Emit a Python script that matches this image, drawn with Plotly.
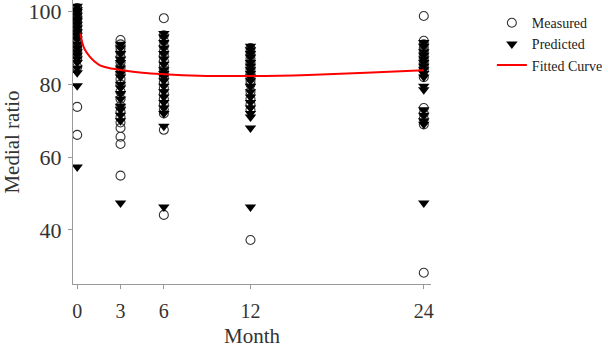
import plotly.graph_objects as go

months = [0, 3, 6, 12, 24]

measured = {
    0: [101, 100, 99.5, 99, 98, 97, 96.5, 96, 95, 94, 93, 92, 91, 90, 89, 88, 87, 84.8, 73.8, 66.1],
    3: [92.2, 91, 90, 89, 87.5, 86, 84.5, 83, 81.5, 80, 78, 76, 74, 72.5, 71, 69.5, 68, 65.6, 63.6, 54.9],
    6: [98.2, 93.5, 92, 90.5, 89, 88, 86.5, 85, 84, 83, 82, 80.5, 79, 77.5, 76, 74.5, 73, 72, 67.5, 44.1],
    12: [90, 89, 88, 87, 86, 85, 84, 83, 82, 81, 80, 78, 76, 74.5, 73, 37.2],
    24: [98.8, 92, 91, 90, 89, 88, 87, 86, 85, 84, 82, 73.5, 72, 70.5, 69, 28.2],
}

predicted = {
    0: [101.5, 100.5, 100, 99, 98, 97.5, 96.5, 95.5, 94.5, 93.5, 92.5, 91, 90, 89, 88, 87, 86, 84.5, 83.2, 79.6, 57.3],
    3: [91, 90, 88.5, 87, 86, 84.5, 83, 82, 80, 79, 77.5, 76, 74, 73, 71.5, 70, 47.4],
    6: [94, 93, 91.5, 90, 88.5, 87, 85.5, 84, 83, 82, 81, 79.5, 78, 76.5, 75, 73.5, 72, 68.5, 46.3],
    12: [90.5, 89.5, 88.5, 87.5, 86, 85, 84, 83, 82, 81, 79.5, 78, 76.5, 75, 73.5, 72, 71, 68, 46.3],
    24: [91.5, 90.5, 89, 88, 87, 86, 85, 84, 83, 82, 79.5, 78.5, 73, 71.5, 70, 69, 47.4],
}

curve_x = [0.23, 0.35, 0.5, 0.87, 1.2, 1.55, 2.2, 3.1, 4.5, 6, 8.4, 12, 16, 20, 24]
curve_y = [94.0, 91.5, 89.8, 87.6, 86.3, 85.3, 84.5, 83.9, 83.2, 82.8, 82.4, 82.3, 82.6, 83.2, 83.9]

tick_vals_x = [0, 3, 6, 12, 24]
tick_vals_y = [40, 60, 80, 100]

mx, my = [], []
for m in months:
    mx += [m] * len(measured[m])
    my += measured[m]
px_, py_ = [], []
for m in months:
    px_ += [m] * len(predicted[m])
    py_ += predicted[m]

fig = go.Figure()
fig.add_trace(go.Scatter(
    x=mx, y=my, mode="markers", name="Measured",
    marker=dict(symbol="circle-open", size=9, color="#333333", line=dict(width=1.1, color="#333333")),
))
fig.add_trace(go.Scatter(
    x=px_, y=py_, mode="markers", name="Predicted",
    marker=dict(symbol="triangle-down", size=10, color="#000000"),
))
fig.add_trace(go.Scatter(
    x=curve_x, y=curve_y, mode="lines", name="Fitted Curve",
    line=dict(color="#ff0000", width=2, shape="spline"),
))

axis_font = dict(family="Liberation Serif", color="#333333")
fig.update_layout(
    width=608, height=348,
    margin=dict(l=73, r=173, t=0, b=64),
    paper_bgcolor="white", plot_bgcolor="white",
    font=dict(family="Liberation Serif", color="#333333"),
    showlegend=True,
    legend=dict(
        x=1.17, y=0.975, xanchor="left", yanchor="top",
        font=dict(family="Liberation Serif", size=14, color="#222222"),
        bgcolor="rgba(0,0,0,0)", tracegroupgap=0,
    ),
    xaxis=dict(
        range=[-0.29, 24.5], tickvals=tick_vals_x, ticktext=[str(v) for v in tick_vals_x],
        showgrid=False, zeroline=False, showline=True, linecolor="#999999", linewidth=1,
        ticks="outside", ticklen=4, tickcolor="#999999", ticklabelstandoff=5,
        tickfont=dict(size=20, **axis_font), ticklabeloverflow="allow", automargin=False,
        title=dict(text="Month", font=dict(size=21, **axis_font), standoff=18),
    ),
    yaxis=dict(
        range=[25.1, 103.2], tickvals=tick_vals_y, ticktext=[str(v) for v in tick_vals_y],
        showgrid=False, zeroline=False, showline=True, linecolor="#999999", linewidth=1,
        ticks="outside", ticklen=4, tickcolor="#999999", ticklabelstandoff=2,
        tickfont=dict(size=22, **axis_font), ticklabeloverflow="allow", automargin=False,
        title=dict(text="Medial ratio", font=dict(size=21, **axis_font), standoff=4),
    ),
)

fig.write_html("out.html")
